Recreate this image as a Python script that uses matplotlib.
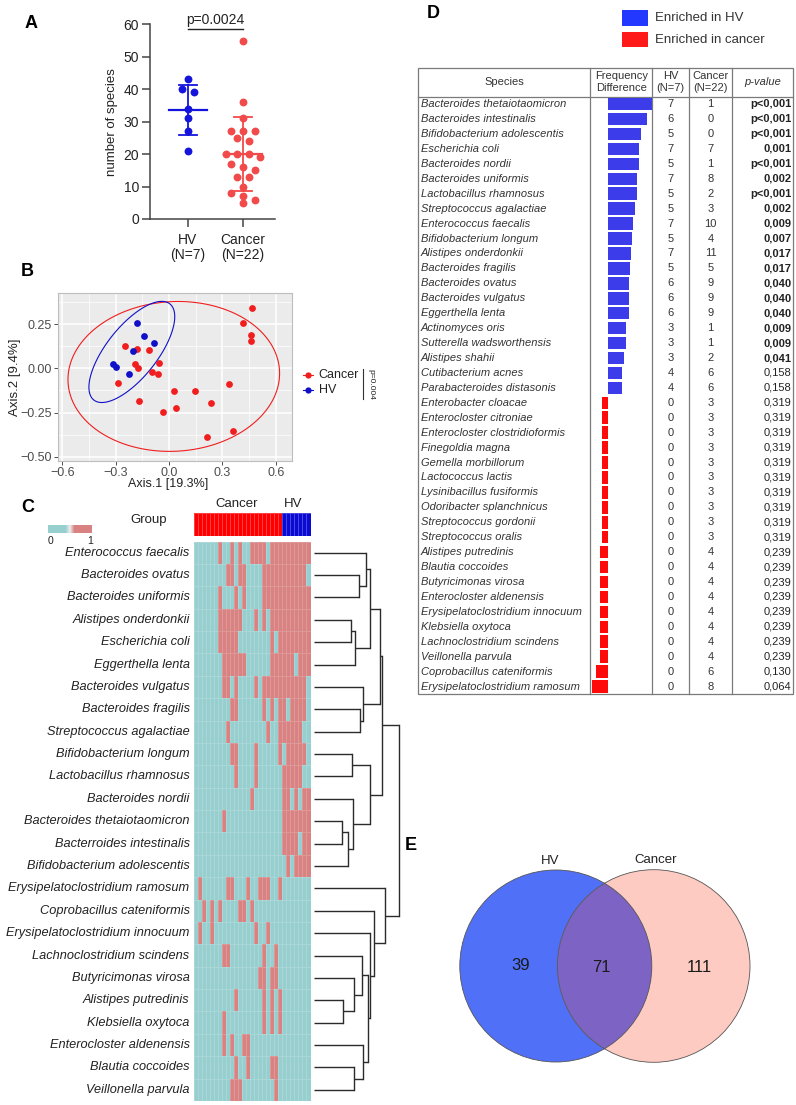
import numpy as np
import matplotlib
matplotlib.use("Agg")
import matplotlib.pyplot as plt
from matplotlib.patches import Circle, Rectangle, Polygon
from matplotlib.colors import LinearSegmentedColormap, ListedColormap
from matplotlib.ticker import FuncFormatter, MultipleLocator

plt.rcParams['font.family'] = ['Liberation Sans', 'DejaVu Sans']

# ======================= DATA =======================
# Panel A : number of species per sample
richness_groups = ['HV\n(N=7)', 'Cancer\n(N=22)']
richness_hv = [43, 40, 39, 34, 31, 27, 21]
richness_cancer = [55, 36, 31, 27, 27, 27, 25, 24, 20, 20, 20, 19, 17, 16, 15,
                   13, 13, 10, 8, 7, 6, 5]
richness_p = 'p=0.0024'

# Panel B : PCoA coordinates
pcoa_cancer_x = [-0.249, -0.178, -0.112, -0.191, -0.176, -0.058, -0.094, -0.064,
                 -0.285, -0.170, -0.032, 0.028, 0.039, 0.146, 0.236, 0.215,
                 0.361, 0.339, 0.414, 0.466, 0.461, 0.461]
pcoa_cancer_y = [0.126, 0.107, 0.103, 0.022, 0.000, 0.030, -0.023, -0.032,
                 -0.085, -0.186, -0.249, -0.126, -0.226, -0.126, -0.194, -0.386,
                 -0.352, -0.090, 0.258, 0.339, 0.188, 0.154]
pcoa_hv_x = [-0.180, -0.139, -0.084, -0.200, -0.316, -0.300, -0.223]
pcoa_hv_y = [0.254, 0.182, 0.141, 0.098, 0.022, 0.009, -0.032]
pcoa_xlabel = 'Axis.1 [19.3%]'
pcoa_ylabel = 'Axis.2 [9.4%]'
pcoa_p = 'p=0.004'
pcoa_legend = ['Cancer', 'HV']

# Panel C : presence heatmap (22 cancer columns then 7 HV columns)
heat_n_cancer = 22
heat_n_hv = 7
heat_species = ['Enterococcus faecalis', 'Bacteroides ovatus', 'Bacteroides uniformis',
                'Alistipes onderdonkii', 'Escherichia coli', 'Eggerthella lenta',
                'Bacteroides vulgatus', 'Bacteroides fragilis', 'Streptococcus agalactiae',
                'Bifidobacterium longum', 'Lactobacillus rhamnosus', 'Bacteroides nordii',
                'Bacteroides thetaiotaomicron', 'Bacterroides intestinalis',
                'Bifidobacterium adolescentis', 'Erysipelatoclostridium ramosum',
                'Coprobacillus cateniformis', 'Erysipelatoclostridium innocuum',
                'Lachnoclostridium scindens', 'Butyricimonas virosa', 'Alistipes putredinis',
                'Klebsiella oxytoca', 'Enterocloster aldenensis', 'Blautia coccoides',
                'Veillonella parvula']
heat_present = [
    [6, 9, 11, 14, 15, 16, 17, 19, 20, 21, 22, 23, 24, 25, 26, 27, 28],
    [8, 9, 11, 12, 17, 18, 19, 20, 21, 22, 23, 24, 25, 26, 27],
    [6, 10, 12, 17, 18, 19, 20, 21, 22, 23, 24, 25, 26, 27, 28],
    [6, 7, 8, 9, 10, 11, 15, 17, 19, 20, 21, 22, 23, 24, 25, 26, 27, 28],
    [6, 7, 8, 9, 10, 19, 21, 22, 23, 24, 25, 26, 27, 28],
    [7, 8, 9, 10, 11, 12, 19, 20, 21, 22, 23, 24, 26, 27, 28],
    [7, 8, 10, 15, 17, 18, 19, 20, 21, 22, 23, 24, 25, 26, 27],
    [9, 10, 17, 19, 21, 22, 24, 25, 26, 27],
    [8, 18, 21, 22, 23, 24, 25, 26],
    [9, 10, 15, 21, 23, 24, 25, 26, 27],
    [10, 15, 22, 23, 24, 25, 26],
    [14, 22, 23, 25, 27, 28],
    [7, 22, 23, 24, 25, 26, 27, 28],
    [22, 23, 24, 25, 27, 28],
    [23, 25, 26, 27, 28],
    [1, 8, 9, 13, 16, 17, 18, 21],
    [2, 4, 6, 11, 12, 14],
    [1, 4, 15, 18],
    [7, 8, 17, 20],
    [16, 17, 19, 20],
    [10, 17, 19, 21],
    [7, 17, 19, 21],
    [7, 9, 12, 13],
    [10, 13, 19, 20],
    [9, 10, 11, 20],
]
# row dendrogram: (child a, child b, height); leaves 0-24, merges numbered from 25
dend_merges = [
    (1, 2, 0.526), (0, 25, 0.613), (3, 4, 0.439), (27, 5, 0.486), (26, 28, 0.656),
    (7, 8, 0.538), (6, 30, 0.577), (29, 31, 0.775), (9, 10, 0.447), (12, 13, 0.328),
    (34, 14, 0.395), (11, 35, 0.455), (33, 36, 0.664), (32, 37, 0.802),
    (20, 21, 0.340), (19, 39, 0.466), (18, 40, 0.565), (23, 24, 0.466),
    (22, 42, 0.573), (41, 43, 0.632), (17, 44, 0.664), (16, 45, 0.704),
    (15, 46, 0.834), (38, 47, 1.000),
]

# Panel D : table
tab_species = ['Bacteroides thetaiotaomicron', 'Bacteroides intestinalis',
               'Bifidobacterium adolescentis', 'Escherichia coli', 'Bacteroides nordii',
               'Bacteroides uniformis', 'Lactobacillus rhamnosus', 'Streptococcus agalactiae',
               'Enterococcus faecalis', 'Bifidobacterium longum', 'Alistipes onderdonkii',
               'Bacteroides fragilis', 'Bacteroides ovatus', 'Bacteroides vulgatus',
               'Eggerthella lenta', 'Actinomyces oris', 'Sutterella wadsworthensis',
               'Alistipes shahii', 'Cutibacterium acnes', 'Parabacteroides distasonis',
               'Enterobacter cloacae', 'Enterocloster citroniae',
               'Enterocloster clostridioformis', 'Finegoldia magna', 'Gemella morbillorum',
               'Lactococcus lactis', 'Lysinibacillus fusiformis', 'Odoribacter splanchnicus',
               'Streptococcus gordonii', 'Streptococcus oralis', 'Alistipes putredinis',
               'Blautia coccoides', 'Butyricimonas virosa', 'Enterocloster aldenensis',
               'Erysipelatoclostridium innocuum', 'Klebsiella oxytoca',
               'Lachnoclostridium scindens', 'Veillonella parvula',
               'Coprobacillus cateniformis', 'Erysipelatoclostridium ramosum']
tab_hv = [7, 6, 5, 7, 5, 7, 5, 5, 7, 5, 7, 5, 6, 6, 6, 3, 3, 3, 4, 4,
          0, 0, 0, 0, 0, 0, 0, 0, 0, 0, 0, 0, 0, 0, 0, 0, 0, 0, 0, 0]
tab_cancer = [1, 0, 0, 7, 1, 8, 2, 3, 10, 4, 11, 5, 9, 9, 9, 1, 1, 2, 6, 6,
              3, 3, 3, 3, 3, 3, 3, 3, 3, 3, 4, 4, 4, 4, 4, 4, 4, 4, 6, 8]
tab_p = ['p<0,001', 'p<0,001', 'p<0,001', '0,001', 'p<0,001', '0,002', 'p<0,001',
         '0,002', '0,009', '0,007', '0,017', '0,017', '0,040', '0,040', '0,040',
         '0,009', '0,009', '0,041', '0,158', '0,158', '0,319', '0,319', '0,319',
         '0,319', '0,319', '0,319', '0,319', '0,319', '0,319', '0,319', '0,239',
         '0,239', '0,239', '0,239', '0,239', '0,239', '0,239', '0,239', '0,130', '0,064']
tab_n_hv = 7
tab_n_cancer = 22
tab_legend = ['Enriched in HV', 'Enriched in cancer']

# Panel E : Venn
venn_labels = ['HV', 'Cancer']
venn_counts = [39, 71, 111]   # HV only, shared, Cancer only

# ======================= FIGURE =======================
W, H = 796, 1105
fig = plt.figure(figsize=(W / 100, H / 100), dpi=100)


def ax_px(x0, y0, x1, y1):
    return fig.add_axes([x0 / W, 1 - y1 / H, (x1 - x0) / W, (y1 - y0) / H])


canvas = ax_px(0, 0, W, H)
canvas.set_xlim(0, W)
canvas.set_ylim(H, 0)
canvas.axis('off')

# panel letters
for lab, (x, y) in zip('ABCDE', [(31, 24), (27, 272), (28, 507), (433, 13), (411, 845)]):
    canvas.text(x, y, lab, fontsize=13, fontweight='bold', ha='center', va='center')

# ---------------- Panel A ----------------
BLUE_A = '#1414DC'
RED_A = '#F24A4A'
axA = ax_px(150, 24.3, 275, 219)
axA.set_xlim(0.31, 2.58)
axA.set_ylim(0, 60)


def binned_scatter_x(vals, center, bin_width=3, step=0.21):
    """Prism-like column scatter: values in the same bin are spread side by side."""
    vals = np.asarray(vals)
    bins = np.floor(vals / bin_width).astype(int)
    xs = np.full(len(vals), float(center))
    for b in np.unique(bins):
        idx = np.where(bins == b)[0]
        n = len(idx)
        offs = (np.arange(n) - (n - 1) / 2) * step
        xs[idx] = center + offs
    return xs


for pos, vals, col in [(1, richness_hv, BLUE_A), (2, richness_cancer, RED_A)]:
    xs = binned_scatter_x(vals, pos)
    axA.scatter(xs, vals, s=32, color=col, zorder=2, linewidths=0)
    m = np.mean(vals)
    sd = np.std(vals, ddof=1)
    axA.plot([pos - 0.34, pos + 0.34], [m, m], color=col, lw=1.6, zorder=3)
    axA.plot([pos, pos], [m - sd, m + sd], color=col, lw=1.3, zorder=3)
    for yy in (m - sd, m + sd):
        axA.plot([pos - 0.17, pos + 0.17], [yy, yy], color=col, lw=1.3, zorder=3)

axA.plot([1, 2], [58.6, 58.6], color='#222222', lw=1.0, clip_on=False)
axA.text(1.5, 59.2, richness_p, ha='center', va='bottom', fontsize=10, color='#222222')
axA.set_xticks([1, 2])
axA.set_xticklabels(richness_groups, fontsize=10, linespacing=1.1)
axA.set_yticks(np.arange(0, 61, 10))
axA.tick_params(axis='both', direction='out', length=6, width=1.1, color='#444444',
                labelsize=10, labelcolor='#222222')
axA.tick_params(axis='x', pad=4)
axA.tick_params(axis='y', pad=2)
for s in ['top', 'right']:
    axA.spines[s].set_visible(False)
for s in ['left', 'bottom']:
    axA.spines[s].set_color('#444444')
    axA.spines[s].set_linewidth(1.1)
canvas.text(112, 122, 'number of species', rotation=90, ha='center', va='center',
            fontsize=9.5, color='#222222')

# ---------------- Panel B ----------------
RED_B = '#F01E1E'
BLUE_B = '#1010C8'
axB = ax_px(58, 293.3, 292, 461)
axB.set_facecolor('#EBEBEB')
axB.set_xlim(-0.6236, 0.691)
axB.set_ylim(-0.5237, 0.4237)
axB.set_xticks([-0.6, -0.3, 0.0, 0.3, 0.6])
axB.set_yticks([-0.5, -0.25, 0.0, 0.25])
axB.xaxis.set_minor_locator(MultipleLocator(0.15))
axB.yaxis.set_minor_locator(MultipleLocator(0.125))
axB.xaxis.set_major_formatter(FuncFormatter(lambda v, _: f'{v:.1f}'.replace('-', '\u2212')))
axB.yaxis.set_major_formatter(FuncFormatter(lambda v, _: f'{v:.2f}'.replace('-', '\u2212')))
axB.grid(True, which='major', color='white', lw=1.1)
axB.grid(True, which='minor', color='white', lw=0.5)
axB.set_axisbelow(True)
axB.tick_params(which='major', length=3, width=0.6, color='#333333', labelsize=9,
                labelcolor='#4D4D4D', pad=1.5)
axB.tick_params(which='minor', length=0)
for s in axB.spines.values():
    s.set_color('#BDBDBD')
    s.set_linewidth(0.8)


def cov_trob(X, nu=5, maxit=25, tol=0.01):
    n, p = X.shape
    w = np.ones(n)
    loc = X.mean(0)
    for _ in range(maxit):
        w0 = w.copy()
        Xc = X - loc
        S = (Xc * (w / w.sum())[:, None]).T @ Xc
        Q = np.einsum('ij,jk,ik->i', Xc, np.linalg.inv(S), Xc)
        w = (nu + p) / (nu + Q)
        loc = (w[:, None] * X).sum(0) / w.sum()
        if np.all(np.abs(w - w0) < tol):
            break
    cov = (Xc * w[:, None]).T @ Xc / n
    return loc, cov


# 95% quantiles of F(2, n-1) for n = 22 and n = 7
F95 = {21: 3.4668, 6: 5.1433}
for xs, ys, col in [(pcoa_cancer_x, pcoa_cancer_y, RED_B), (pcoa_hv_x, pcoa_hv_y, BLUE_B)]:
    X = np.column_stack([xs, ys])
    center, cov = cov_trob(X)
    R = np.linalg.cholesky(cov).T
    radius = np.sqrt(2 * F95[len(xs) - 1])
    t = np.linspace(0, 2 * np.pi, 200)
    pts = center + radius * (np.column_stack([np.cos(t), np.sin(t)]) @ R)
    axB.add_patch(Polygon(pts, closed=True, fill=False, edgecolor=col, lw=0.8, zorder=2))
axB.scatter(pcoa_cancer_x, pcoa_cancer_y, s=24, color=RED_B, zorder=3, linewidths=0)
axB.scatter(pcoa_hv_x, pcoa_hv_y, s=24, color=BLUE_B, zorder=3, linewidths=0)

canvas.text(168, 484, pcoa_xlabel, ha='center', va='center', fontsize=9, color='#222222')
canvas.text(15, 377, pcoa_ylabel, rotation=90, ha='center', va='center', fontsize=9.5,
            color='#222222')
for k, (lab, col) in enumerate(zip(pcoa_legend, [RED_B, BLUE_B])):
    yy = 375 + 15 * k
    canvas.plot([303, 313], [yy, yy], color=col, lw=0.8)
    canvas.plot(308, yy, 'o', color=col, ms=4.5, mew=0)
    canvas.text(318.5, yy, lab, ha='left', va='center', fontsize=9, color='#222222')
canvas.plot([363, 363], [369, 399], color='#333333', lw=0.8)
canvas.text(371, 384, pcoa_p, rotation=270, ha='center', va='center', fontsize=6,
            color='#222222')

# ---------------- Panel C ----------------
TEAL = '#97CFCF'
HRED = '#D88282'
n_cols = heat_n_cancer + heat_n_hv
n_rows = len(heat_species)
M = np.zeros((n_rows, n_cols))
for i, cols in enumerate(heat_present):
    M[i, cols] = 1

axG = ax_px(194, 513, 310.5, 536)
group_codes = np.array([0] * heat_n_cancer + [1] * heat_n_hv)[None, :]
axG.pcolormesh(group_codes, cmap=ListedColormap(['#FF0000', '#0A0AD2']),
               edgecolors=(1, 1, 1, 0.25), linewidth=0.4)
axG.set_xlim(0, n_cols)
axG.set_ylim(0, 1)
axG.axis('off')

axH = ax_px(194, 541.5, 310.5, 1101)
axH.pcolormesh(M, cmap=ListedColormap([TEAL, HRED]), edgecolors=(1, 1, 1, 0.18),
               linewidth=0.4)
axH.set_xlim(0, n_cols)
axH.set_ylim(n_rows, 0)
axH.axis('off')
for i, name in enumerate(heat_species):
    axH.text(-1.1, i + 0.5, name, ha='right', va='center', fontsize=9.2,
             style='italic', color='#222222')

canvas.text(149, 520, 'Group', ha='center', va='center', fontsize=9.5, color='#222222')
canvas.text(237, 504, 'Cancer', ha='center', va='center', fontsize=9.5, color='#222222')
canvas.text(293, 504, 'HV', ha='center', va='center', fontsize=9.5, color='#222222')

axK = ax_px(48, 525, 92, 533)
key_cmap = LinearSegmentedColormap.from_list(
    'key', [(0, TEAL), (0.4, TEAL), (0.5, '#EFEFEF'), (0.6, HRED), (1, HRED)])
axK.imshow(np.linspace(0, 1, 100)[None, :], aspect='auto', cmap=key_cmap,
           extent=(0, 1, 0, 1))
axK.axis('off')
canvas.text(50.5, 541.5, '0', ha='center', va='center', fontsize=7.5, color='#222222')
canvas.text(90.5, 541.5, '1', ha='center', va='center', fontsize=7.5, color='#222222')

# dendrogram
axDg = ax_px(314, 541.5, 400, 1101)
axDg.set_xlim(0, 1.012)
axDg.set_ylim(n_rows, 0)
axDg.axis('off')
node_y = {i: i + 0.5 for i in range(n_rows)}
node_h = {i: 0.0 for i in range(n_rows)}
for k, (a, b, h) in enumerate(dend_merges):
    nid = n_rows + k
    for c in (a, b):
        axDg.plot([node_h[c], h], [node_y[c], node_y[c]], color='#2b2b2b', lw=1.0,
                  clip_on=False, solid_capstyle='butt')
    axDg.plot([h, h], [node_y[a], node_y[b]], color='#2b2b2b', lw=1.0, clip_on=False)
    node_y[nid] = (node_y[a] + node_y[b]) / 2
    node_h[nid] = h

# ---------------- Panel D ----------------
TXT = '#333333'
LINE = '#7a7a7a'
X0, X1 = 418, 793.3
Y0, YH, YB = 67.7, 96.7, 694.0
col_sep = [590, 652.3, 689.3, 731.7]
n_tab = len(tab_species)
row_h = (YB - YH) / n_tab

canvas.add_patch(Rectangle((X0, Y0), X1 - X0, YB - Y0, fill=False, edgecolor=LINE, lw=0.9))
canvas.plot([X0, X1], [YH, YH], color=LINE, lw=0.9)
for xs_ in col_sep:
    canvas.plot([xs_, xs_], [Y0, YB], color=LINE, lw=0.9)

hdr_y = (Y0 + YH) / 2
canvas.text((X0 + col_sep[0]) / 2, hdr_y, 'Species', ha='center', va='center',
            fontsize=8, color=TXT)
canvas.text((col_sep[0] + col_sep[1]) / 2, hdr_y, 'Frequency\nDifference', ha='center',
            va='center', fontsize=8, color=TXT, linespacing=1.2)
canvas.text((col_sep[1] + col_sep[2]) / 2, hdr_y, f'HV\n(N={tab_n_hv})', ha='center',
            va='center', fontsize=8, color=TXT, linespacing=1.2)
canvas.text((col_sep[2] + col_sep[3]) / 2, hdr_y, f'Cancer\n(N={tab_n_cancer})',
            ha='center', va='center', fontsize=8, color=TXT, linespacing=1.2)
canvas.text((col_sep[3] + X1) / 2, hdr_y, 'p-value', ha='center', va='center',
            fontsize=8, color=TXT, style='italic')


def p_is_sig(s):
    return s.startswith('p<') or float(s.replace(',', '.')) < 0.05


for i in range(n_tab):
    yy = YH + row_h * (i + 0.5)
    canvas.text(421, yy, tab_species[i], ha='left', va='center', fontsize=8,
                style='italic', color=TXT)
    canvas.text((col_sep[1] + col_sep[2]) / 2, yy, str(tab_hv[i]), ha='center',
                va='center', fontsize=8, color=TXT)
    canvas.text((col_sep[2] + col_sep[3]) / 2, yy, str(tab_cancer[i]), ha='center',
                va='center', fontsize=8, color=TXT)
    canvas.text(791.5, yy, tab_p[i], ha='right', va='center', fontsize=8, color='#222222',
                fontweight='bold' if p_is_sig(tab_p[i]) else 'normal')

freq_diff = np.array(tab_hv) / tab_n_hv - np.array(tab_cancer) / tab_n_cancer
axF = ax_px(col_sep[0], YH, col_sep[1], YB)
axF.barh(np.arange(n_tab) + 0.5, freq_diff, height=0.84,
         color=['#3C3CEB' if v > 0 else '#FF0A0A' for v in freq_diff], linewidth=0)
axF.set_ylim(n_tab, 0)
axF.set_xlim(-0.403, 0.969)
axF.axis('off')

canvas.add_patch(Rectangle((622, 10), 26, 16, color='#2238FF', lw=0))
canvas.add_patch(Rectangle((622, 32), 26, 15, color='#FF1A1A', lw=0))
canvas.text(655, 18, tab_legend[0], ha='left', va='center', fontsize=9.5, color=TXT)
canvas.text(655, 40, tab_legend[1], ha='left', va='center', fontsize=9.5, color=TXT)

# ---------------- Panel E ----------------
axV = ax_px(430, 850, 790, 1090)
axV.set_xlim(430, 790)
axV.set_ylim(1090, 850)
axV.axis('off')
c_hv = Circle((555.8, 966), 96, facecolor='#5070F8', edgecolor='none')
c_ca = Circle((653.7, 966), 96.3, facecolor='#FDCBC1', edgecolor='none')
axV.add_patch(c_hv)
axV.add_patch(c_ca)
overlap = Circle((653.7, 966), 96.3, facecolor='#7D64C4', edgecolor='none')
axV.add_patch(overlap)
overlap.set_clip_path(c_hv)
axV.add_patch(Circle((555.8, 966), 96, fill=False, edgecolor='#555555', lw=0.6))
axV.add_patch(Circle((653.7, 966), 96.3, fill=False, edgecolor='#555555', lw=0.6))
axV.text(550, 861, venn_labels[0], ha='center', va='center', fontsize=9.5, color='#222222')
axV.text(656, 860, venn_labels[1], ha='center', va='center', fontsize=9.5, color='#222222')
for (x, y), v in zip([(520.7, 966), (601, 967), (699.3, 967)], venn_counts):
    axV.text(x, y, str(v), ha='center', va='center', fontsize=12, color='#1a1a1a')

fig.savefig('out.png', dpi=100)
